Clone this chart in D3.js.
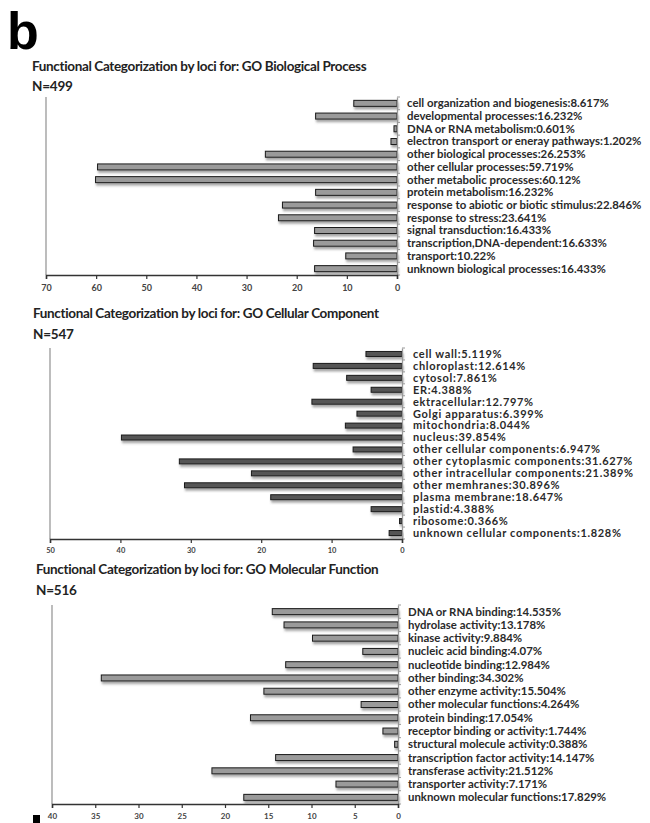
<!DOCTYPE html>
<html>
<meta charset="utf-8">
<style>
  body { margin: 0; background: #fff; }
  svg { width: 650px; height: 823px; display: block; }
  text { font-family: Lato, "Open Sans", sans-serif; }
</style>
<body>
  <svg></svg>
</body>
<script src="https://d3js.org/d3.v7.min.js"></script>
<script>

  // GO Biological Process
  var bpNames = ["cell organization and biogenesis", "developmental processes", "DNA or RNA metabolism",
    "electron transport or eneray pathways", "other biological processes", "other cellular processes",
    "other metabolic processes", "protein metabolism", "response to abiotic or biotic stimulus",
    "response to stress", "signal transduction", "transcription,DNA-dependent", "transport",
    "unknown biological processes"];
  var bpValues = [8.617, 16.232, 0.601, 1.202, 26.253, 59.719, 60.12, 16.232, 22.846, 23.641, 16.433, 16.633, 10.22, 16.433];
  var bpTicks = [70, 60, 50, 40, 30, 20, 10, 0];

  // GO Cellular Component
  var ccNames = ["cell wall", "chloroplast", "cytosol", "ER", "ektracellular", "Golgi apparatus",
    "mitochondria", "nucleus", "other cellular components", "other cytoplasmic components",
    "other intracellular components", "other memhranes", "plasma membrane", "plastid", "ribosome",
    "unknown cellular components"];
  var ccValues = [5.119, 12.614, 7.861, 4.388, 12.797, 6.399, 8.044, 39.854, 6.947, 31.627, 21.389, 30.896, 18.647, 4.388, 0.366, 1.828];
  var ccTicks = [50, 40, 30, 20, 10, 0];

  // GO Molecular Function
  var mfNames = ["DNA or RNA binding", "hydrolase activity", "kinase activity", "nucleic acid binding",
    "nucleotide binding", "other binding", "other enzyme activity", "other molecular functions",
    "protein binding", "receptor binding or activity", "structural molecule activity",
    "transcription factor activity", "transferase activity", "transporter activity",
    "unknown molecular functions"];
  var mfValues = [14.535, 13.178, 9.884, 4.07, 12.984, 34.302, 15.504, 4.264, 17.054, 1.744, 0.388, 14.147, 21.512, 7.171, 17.829];
  var mfTicks = [40, 35, 30, 25, 20, 15, 10, 5, 0];

  var svg = d3.select("svg");

  var defs = svg.append("defs");
  var f = defs.append("filter").attr("id", "shadow").attr("x", "-5%").attr("y", "-50%").attr("width", "115%").attr("height", "250%");
  f.append("feDropShadow").attr("dx", 1).attr("dy", 2.5).attr("stdDeviation", 1.1)
    .attr("flood-color", "#666").attr("flood-opacity", 0.6);

  // panel letter
  svg.append("text").attr("x", 7).attr("y", 49)
    .style("font-family", "'Liberation Sans', Arial, sans-serif")
    .style("font-weight", "bold").style("font-size", "52px").text("b");

  function panel(o) {
    var g = svg.append("g");
    g.append("text").attr("x", o.tx).attr("y", o.titleY)
      .style("font-weight", "bold").style("font-size", "13.5px").style("letter-spacing", "-0.35px")
      .attr("fill", "#222").text(o.title);
    g.append("text").attr("x", o.tx).attr("y", o.nY)
      .style("font-weight", "bold").style("font-size", "13.5px").style("letter-spacing", "-0.2px")
      .attr("fill", "#222").text(o.n);

    var x = d3.scaleLinear().domain([o.ticks[0], 0]).range([o.left, o.zero]);
    var y = d3.scaleBand().domain(o.names).range([o.top, o.bottom]);
    var data = o.names.map(function(n, i) { return {name: n, value: o.values[i]}; });

    // left frame line
    g.append("line").attr("x1", o.left).attr("x2", o.left).attr("y1", o.top).attr("y2", o.bottom)
      .attr("stroke", "#999").attr("stroke-width", 1.3);

    g.selectAll("rect.bar").data(data).enter().append("rect")
      .attr("class", "bar")
      .attr("x", function(d) { return x(d.value); })
      .attr("y", function(d) { return y(d.name) + y.bandwidth() / 2 - o.barH / 2; })
      .attr("width", function(d) { return x(0) - x(d.value); })
      .attr("height", o.barH)
      .attr("fill", o.fill).attr("stroke", "#1a1a1a").attr("stroke-width", 1)
      .attr("filter", "url(#shadow)");

    // right category axis (ticks only, labels drawn separately)
    var yAxis = d3.axisRight(y).tickSize(0).tickFormat("");
    var ya = g.append("g").attr("transform", "translate(" + o.zero + ",0)").call(yAxis);
    ya.select(".domain").attr("stroke", "#999").attr("stroke-width", 1.3);
    var bounds = d3.range(o.names.length + 1).map(function(i) { return o.top + i * y.step(); });
    g.selectAll("line.ct").data(bounds).enter().append("line")
      .attr("x1", o.zero).attr("x2", o.zero + 3)
      .attr("y1", function(d) { return d; }).attr("y2", function(d) { return d; })
      .attr("stroke", "#999");

    g.selectAll("text.lab").data(data).enter().append("text")
      .attr("x", o.zero + o.labDx)
      .attr("y", function(d) { return y(d.name) + y.bandwidth() / 2; })
      .attr("dy", "0.35em")
      .style("font-weight", "bold").style("font-size", o.labSize + "px")
      .style("letter-spacing", o.labSpacing + "px").attr("fill", "#2a2a2a")
      .text(function(d) { return d.name + ":" + d.value + "%"; });

    var xAxis = d3.axisBottom(x).tickValues(o.ticks).tickSize(4).tickPadding(o.tickPad)
      .tickFormat(d3.format("d"));
    var xa = g.append("g").attr("transform", "translate(0," + o.bottom + ")").call(xAxis);
    xa.select(".domain").attr("stroke", "#333").attr("stroke-width", 1.5);
    xa.selectAll(".tick line").attr("stroke", "#333").attr("stroke-width", 1.2);
    xa.selectAll(".tick text").style("font-family", "Lato, sans-serif").style("font-weight", "bold")
      .style("font-size", o.tickSize + "px").attr("fill", "#444");
  }

  panel({title: "Functional Categorization by loci for: GO Biological Process", n: "N=499",
    tx: 32, titleY: 71, nY: 91,
    names: bpNames, values: bpValues, ticks: bpTicks,
    left: 46, zero: 397, top: 97, bottom: 275, barH: 6, fill: "#9a9a9a",
    labDx: 10, labSize: 11.4, labSpacing: 0, tickPad: 6, tickSize: 9});

  panel({title: "Functional Categorization by loci for: GO Cellular Component", n: "N=547",
    tx: 33, titleY: 318, nY: 339,
    names: ccNames, values: ccValues, ticks: ccTicks,
    left: 50, zero: 402, top: 348, bottom: 539, barH: 5, fill: "#555",
    labDx: 11, labSize: 11, labSpacing: 0.65, tickPad: 5, tickSize: 7.5});

  panel({title: "Functional Categorization by loci for: GO Molecular Function", n: "N=516",
    tx: 36, titleY: 574, nY: 595,
    names: mfNames, values: mfValues, ticks: mfTicks,
    left: 52, zero: 398, top: 605, bottom: 804, barH: 6, fill: "#9a9a9a",
    labDx: 10, labSize: 11.4, labSpacing: 0, tickPad: 5, tickSize: 8});

  // small black mark at bottom left
  svg.append("rect").attr("x", 33).attr("y", 815).attr("width", 7).attr("height", 8).attr("fill", "#000");

</script>
</html>
